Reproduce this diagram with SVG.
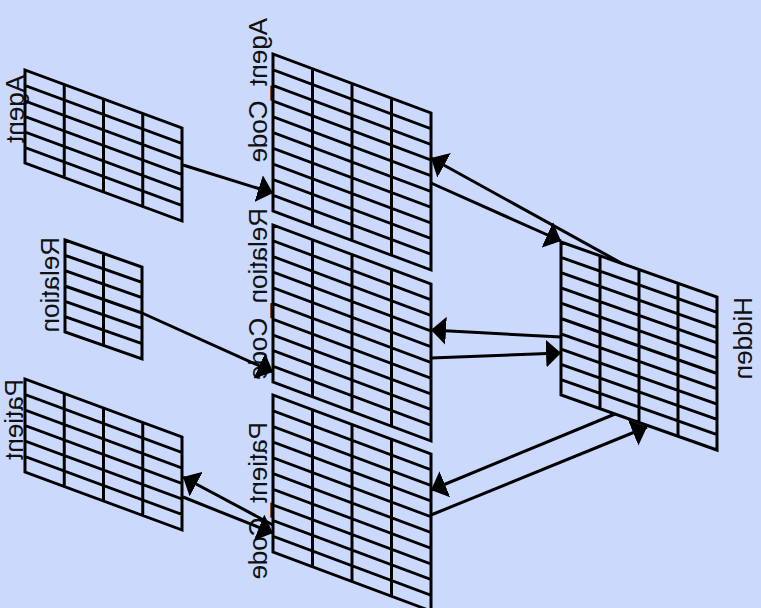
<svg xmlns="http://www.w3.org/2000/svg" xmlns:xlink="http://www.w3.org/1999/xlink" width="761" height="608" viewBox="0 0 761 608">
  <style>
    .grid { fill: none; stroke: #000; stroke-width: 3; vector-effect: non-scaling-stroke; }
    .label { font-family: "Liberation Sans", Arial, sans-serif; font-size: 26px; fill: #111; }
    .link { fill: none; stroke: #000; stroke-width: 3; marker-end: url(#head); }
  </style>
  <defs>
    <marker id="head" markerUnits="userSpaceOnUse" markerWidth="15" markerHeight="28" refX="15" refY="14" orient="auto">
      <path d="M0,0 L15,14 L0,28 Z" fill="#000"/>
    </marker>
    <!-- 4 x 6 input grid -->
    <path id="inGrid" d="M0,0H157V93H0Z M39.25,0V93 M78.5,0V93 M117.75,0V93 M0,15.5H157 M0,31H157 M0,46.5H157 M0,62H157 M0,77.5H157"/>
    <!-- 4 x 10 code grid -->
    <path id="codeGrid" d="M0,0H158V157H0Z M39.5,0V157 M79,0V157 M118.5,0V157 M0,15.7H158 M0,31.4H158 M0,47.1H158 M0,62.8H158 M0,78.5H158 M0,94.2H158 M0,109.9H158 M0,125.6H158 M0,141.3H158"/>
  </defs>

  <rect width="761" height="608" fill="#cbd9fc"/>

  <g id="agent">
    <text class="label" transform="matrix(0 1 1 0 24 75)">Agent</text>
    <use xlink:href="#inGrid" class="grid" transform="matrix(1 0.3694 0 1 25 70)"/>
  </g>
  <g id="relation">
    <text class="label" transform="matrix(0 1 1 0 59 237)">Relation</text>
    <path class="grid" transform="matrix(1 0.3506 0 1 65 240)" d="M0,0H77V92H0Z M38.5,0V92 M0,15.33H77 M0,30.67H77 M0,46H77 M0,61.33H77 M0,76.67H77"/>
  </g>
  <g id="patient">
    <text class="label" transform="matrix(0 1 1 0 23 379)">Patient</text>
    <use xlink:href="#inGrid" class="grid" transform="matrix(1 0.3694 0 1 25 379)"/>
  </g>
  <g id="agent-code">
    <text class="label" transform="matrix(0 1 1 0 267 18)">Agent_Code</text>
    <use xlink:href="#codeGrid" class="grid" transform="matrix(1 0.3734 0 1 273 54)"/>
  </g>
  <g id="relation-code">
    <text class="label" transform="matrix(0 1 1 0 267 208)">Relation_Code</text>
    <use xlink:href="#codeGrid" class="grid" transform="matrix(1 0.3734 0 1 273 225)"/>
  </g>
  <g id="patient-code">
    <text class="label" transform="matrix(0 1 1 0 267 422)">Patient_Code</text>
    <use xlink:href="#codeGrid" class="grid" transform="matrix(1 0.3734 0 1 273 395)"/>
  </g>
  <g id="hidden">
    <text class="label" transform="matrix(0 1 1 0 752 297)">Hidden</text>
    <path class="grid" transform="matrix(1 0.3526 0 1 561 242)" d="M0,0H156V153H0Z M39,0V153 M78,0V153 M117,0V153 M0,15.3H156 M0,30.6H156 M0,45.9H156 M0,61.2H156 M0,76.5H156 M0,91.8H156 M0,107.1H156 M0,122.4H156 M0,137.7H156"/>
  </g>

  <g id="connectors">
    <path class="link" d="M183,165 L273,193"/>
    <path class="link" d="M142,313 L273,372"/>
    <path class="link" d="M273,525 L183,477"/>
    <path class="link" d="M183,497 L273,533"/>
    <path class="link" d="M623,264 L431,158"/>
    <path class="link" d="M431,183 L561,241"/>
    <path class="link" d="M561,337 L431,330"/>
    <path class="link" d="M431,358 L561,353"/>
    <path class="link" d="M615,414 L431,490"/>
    <path class="link" d="M431,515 L647,427"/>
  </g>
</svg>
